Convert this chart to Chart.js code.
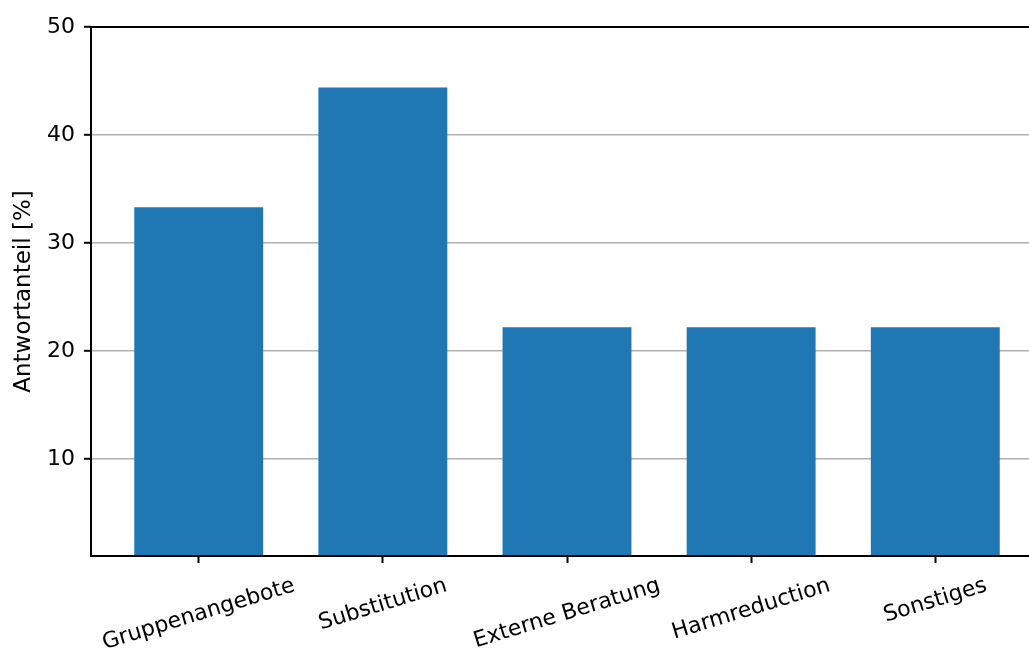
<!DOCTYPE html>
<html>
<head>
<meta charset="utf-8">
<title>Antwortanteil</title>
<script src="https://cdn.jsdelivr.net/npm/chart.js@4/dist/chart.umd.min.js"></script>
<style>
    html, body { margin: 0; padding: 0; background: #fff; overflow: hidden; }
    #wrap { width: 1060px; height: 657px; }
</style>
</head>
<body>
<div id="wrap"><canvas id="myChart" width="1060" height="657"></canvas></div>
<script>
const categories = ['Gruppenangebote', 'Substitution', 'Externe Beratung', 'Harmreduction', 'Sonstiges'];
const shares = [33.3, 44.4, 22.2, 22.2, 22.2];
const yTicks = [10, 20, 30, 40, 50];
const yMin = 1;
const yMax = 50;

const FONT = '"DejaVu Sans", sans-serif';
const LABEL_ROT = 17 * Math.PI / 180;

// bars sit on integer positions of a linear x scale, so the side margins can be set freely
function getPoints() {
    let points = [];
    for (let index = 0; index < shares.length; index++) {
        points.push({x: index, y: shares[index]});
    }
    return points;
}

// full box round the plot, drawn over the bars
const frame = {
    id: 'frame',
    afterDatasetsDraw(chart) {
        const a = chart.chartArea;
        const ctx = chart.ctx;
        ctx.save();
        ctx.strokeStyle = '#000';
        ctx.lineWidth = 2;
        ctx.strokeRect(a.left, a.top, a.right - a.left, a.bottom - a.top);
        ctx.restore();
    }
};

// rotated category names, centred under their tick
const xLabels = {
    id: 'xLabels',
    afterDraw(chart) {
        const ctx = chart.ctx;
        const scale = chart.scales.x;
        const top = chart.chartArea.bottom + 7 + 7;
        ctx.save();
        ctx.font = '22px ' + FONT;
        ctx.fillStyle = '#000';
        ctx.textAlign = 'center';
        ctx.textBaseline = 'middle';
        for (let i = 0; i < categories.length; i++) {
            const w = ctx.measureText(categories[i]).width;
            const h = 22 * 1.164;
            const boxH = w * Math.sin(LABEL_ROT) + h * Math.cos(LABEL_ROT);
            const cx = scale.getPixelForValue(i);
            const cy = top + boxH / 2 + 3;
            ctx.save();
            ctx.translate(cx, cy);
            ctx.rotate(-LABEL_ROT);
            ctx.fillText(categories[i], 0, 0);
            ctx.restore();
        }
        ctx.restore();
    }
};

var canvas = document.getElementById('myChart');
var config = {
    type: 'bar',
    data: {
        datasets: [{
            label: 'Antwortanteil',
            data: getPoints(),
            backgroundColor: '#1f77b4',
            borderWidth: 0,
            barPercentage: 0.7,
            categoryPercentage: 1.0
        }]
    },
    options: {
        responsive: false,
        animation: false,
        devicePixelRatio: 1,
        layout: { padding: { top: 27, right: 17, left: 0, bottom: 0 } },
        plugins: {
            legend: { display: false },
            tooltip: { enabled: false }
        },
        scales: {
            x: {
                type: 'linear',
                offset: false,
                min: -0.585,
                max: categories.length - 1 + 0.585,
                afterBuildTicks: function(scale) {
                    scale.ticks = categories.map((c, i) => ({value: i}));
                },
                afterFit: function(scale) { scale.height = 101; },
                border: { display: false },
                grid: {
                    offset: false,
                    drawOnChartArea: false,
                    drawTicks: true,
                    tickLength: 7,
                    tickWidth: 2,
                    tickColor: '#000',
                    color: '#000'
                },
                ticks: { display: false }
            },
            y: {
                min: yMin,
                max: yMax,
                afterBuildTicks: function(scale) {
                    scale.ticks = yTicks.map(v => ({value: v}));
                },
                afterFit: function(scale) { scale.width = 91; },
                border: { display: false },
                grid: {
                    color: '#b0b0b0',
                    lineWidth: 1.6,
                    drawTicks: true,
                    tickLength: 7,
                    tickWidth: 2,
                    tickColor: '#000'
                },
                ticks: {
                    padding: 9,
                    color: '#000',
                    font: { family: FONT, size: 22 }
                },
                title: {
                    display: true,
                    text: 'Antwortanteil [%]',
                    color: '#000',
                    font: { family: FONT, size: 23 },
                    padding: { top: 10, bottom: 0 }
                }
            }
        }
    },
    plugins: [frame, xLabels]
};
var myChart = new Chart(canvas, config);
</script>
</body>
</html>
